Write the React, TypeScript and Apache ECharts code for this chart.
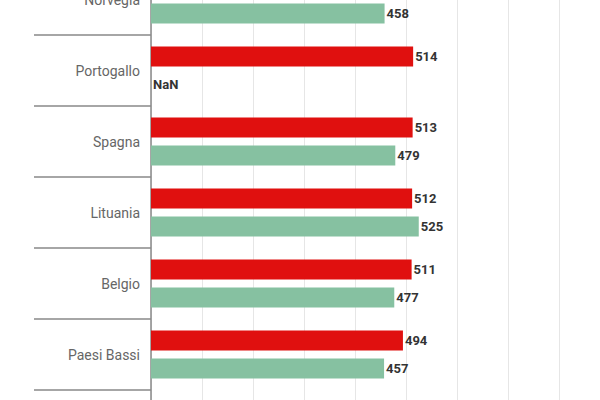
import { useEffect, useRef } from "react";
import * as echarts from "echarts";

const countries = ["Norvegia", "Portogallo", "Spagna", "Lituania", "Belgio", "Paesi Bassi", "Francia"];
const redValues = [516, 514, 513, 512, 511, 494, 465];
const greenValues: (number | null)[] = [458, null, 479, 525, 477, 457, 450];

const RED = "#e0100f";
const GREEN = "#86c1a1";

const App = () => {
  const ref = useRef<HTMLDivElement>(null);

  useEffect(() => {
    if (!ref.current) return;
    const chart = echarts.init(ref.current, null, { renderer: "svg" });

    const valueLabel = {
      show: true,
      position: "right" as const,
      distance: 2,
      fontSize: 13,
      fontWeight: "bold" as const,
      color: "#333",
      fontFamily: "Roboto",
    };

    chart.setOption({
      animation: false,
      grid: { left: 151, right: 10, top: 0, bottom: 0 },
      xAxis: {
        type: "value",
        min: 0,
        max: 900,
        interval: 100,
        axisLabel: { show: false },
        axisLine: { show: false },
        axisTick: { show: false },
        splitLine: { lineStyle: { color: "#e6e6e6", width: 1 } },
      },
      yAxis: {
        type: "category",
        inverse: true,
        data: countries,
        axisLine: { show: true, lineStyle: { color: "#888", width: 1.5 } },
        axisTick: { show: true, length: 117, interval: 0, lineStyle: { color: "#888", width: 1.5 } },
        axisLabel: { margin: 11, fontSize: 14, color: "#666", fontFamily: "Roboto" },
      },
      series: [
        {
          type: "bar",
          data: redValues,
          barWidth: 20,
          barGap: "40%",
          itemStyle: { color: RED },
          label: valueLabel,
        },
        {
          type: "bar",
          data: greenValues.map((v) => ({ value: v === null ? 0 : v, missing: v === null })),
          barWidth: 20,
          itemStyle: { color: GREEN },
          label: {
            ...valueLabel,
            formatter: (p: any) => (p.data.missing ? "NaN" : String(p.value)),
          },
        },
      ],
    });

    return () => chart.dispose();
  }, []);

  return (
    <div style={{ position: "fixed", left: 0, top: 0, width: 600, height: 400, overflow: "hidden", background: "#fff" }}>
      <div ref={ref} style={{ position: "absolute", left: 0, top: -36, width: 620, height: 497 }} />
    </div>
  );
};

export default App;
